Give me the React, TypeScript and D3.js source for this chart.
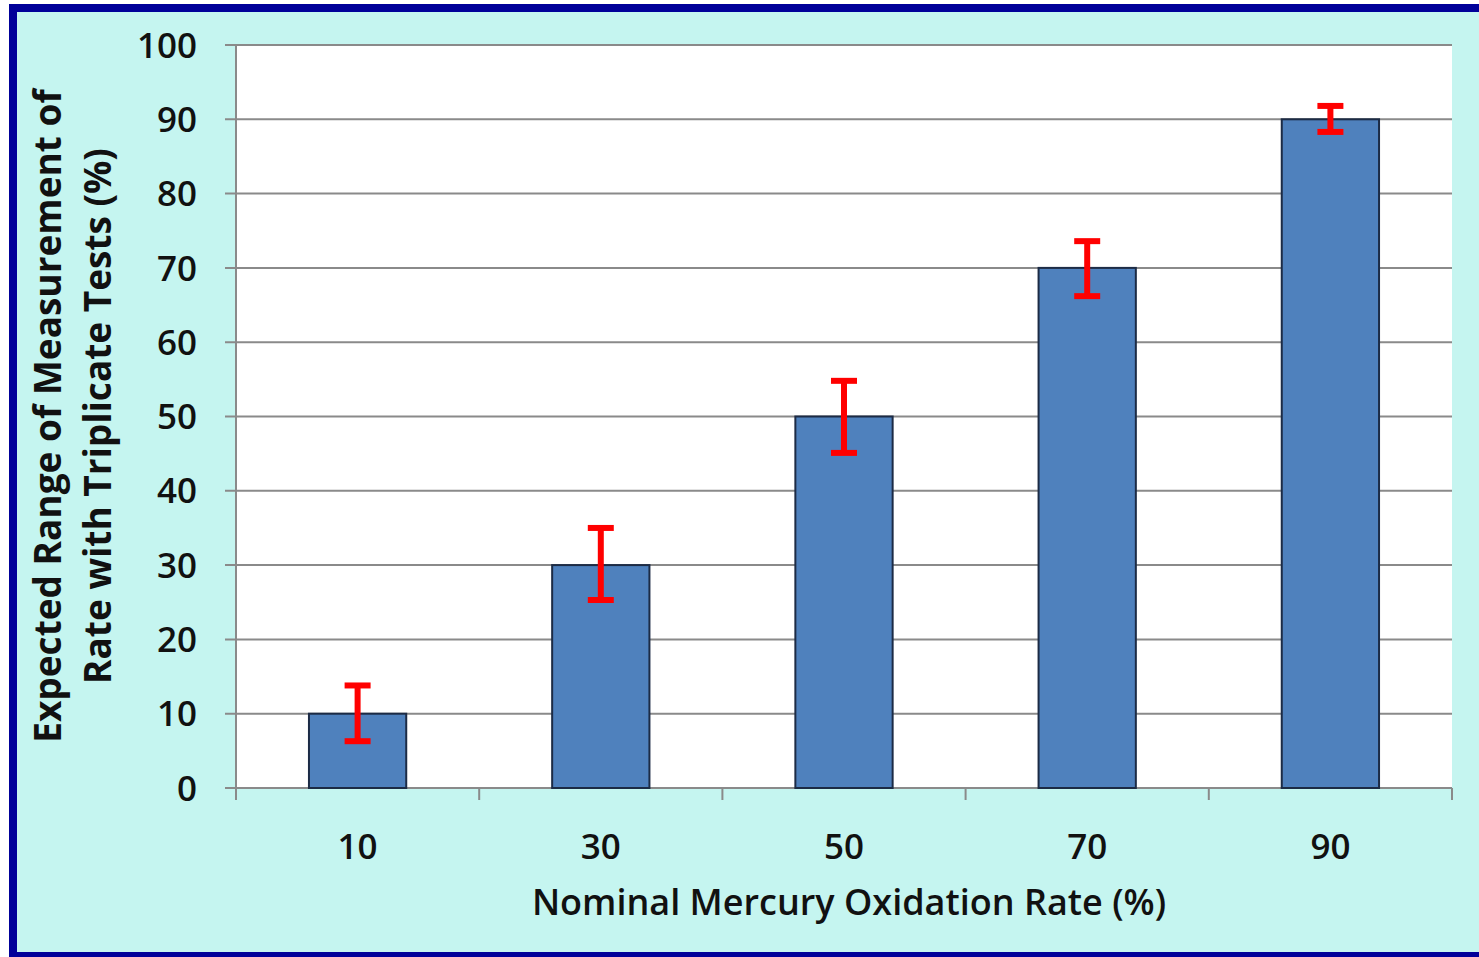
import React from "react";
import * as d3 from "d3";

const categories = ["10", "30", "50", "70", "90"];
const values = [10, 30, 50, 70, 90];
const errorLow = [6.3, 25.3, 45.1, 66.2, 88.3];
const errorHigh = [13.8, 35.0, 54.8, 73.6, 91.8];
const yTicks = [0, 10, 20, 30, 40, 50, 60, 70, 80, 90, 100];

const W = 1479;
const H = 957;
const plot = { left: 236, right: 1452, top: 45, bottom: 788 };

export default function App() {
  const x = d3
    .scaleBand<string>()
    .domain(categories)
    .range([plot.left, plot.right])
    .paddingInner(0.6)
    .paddingOuter(0.3);
  const xb = d3.scaleBand<string>().domain(categories).range([plot.left, plot.right]).padding(0);
  const y = d3.scaleLinear().domain([0, 100]).range([plot.bottom, plot.top]);
  const font = "'Open Sans', 'DejaVu Sans', sans-serif";
  const capW = 26;
  const boundaries = categories.map((c) => xb(c) as number).concat([plot.right]);

  return (
    <svg width={W} height={H} style={{ position: "absolute", left: 0, top: 0 }}>
      <rect x={0} y={0} width={W} height={H} fill="#ffffff" />
      <rect x={13} y={8} width={W + 20} height={948} fill="#c5f5f0" stroke="#000099" strokeWidth={8} />
      <rect x={plot.left} y={plot.top} width={plot.right - plot.left} height={plot.bottom - plot.top} fill="#ffffff" />
      {yTicks.map((t) => (
        <g key={t}>
          <line x1={plot.left - 11} x2={plot.right} y1={y(t)} y2={y(t)} stroke="#8a8a8a" strokeWidth={2} />
          <text x={197} y={y(t)} dy="0.36em" textAnchor="end" fontFamily={font} fontWeight={600} fontSize={35} fill="#111">
            {t}
          </text>
        </g>
      ))}
      <line x1={plot.left} x2={plot.left} y1={plot.top} y2={plot.bottom + 12} stroke="#8a8a8a" strokeWidth={2} />
      {boundaries.map((b, i) => (
        <line key={i} x1={b} x2={b} y1={plot.bottom} y2={plot.bottom + 12} stroke="#8a8a8a" strokeWidth={2} />
      ))}
      {categories.map((c, i) => (
        <rect
          key={c}
          x={x(c)}
          y={y(values[i])}
          width={x.bandwidth()}
          height={y(0) - y(values[i])}
          fill="#4f81bd"
          stroke="#1c2b45"
          strokeWidth={2}
        />
      ))}
      {categories.map((c, i) => {
        const cx = (x(c) as number) + x.bandwidth() / 2;
        return (
          <g key={"e" + c} stroke="#ff0000" strokeWidth={6}>
            <line x1={cx} x2={cx} y1={y(errorLow[i])} y2={y(errorHigh[i])} />
            <line x1={cx - capW / 2} x2={cx + capW / 2} y1={y(errorLow[i])} y2={y(errorLow[i])} />
            <line x1={cx - capW / 2} x2={cx + capW / 2} y1={y(errorHigh[i])} y2={y(errorHigh[i])} />
          </g>
        );
      })}
      {categories.map((c) => (
        <text
          key={"l" + c}
          x={(x(c) as number) + x.bandwidth() / 2}
          y={846}
          dy="0.36em"
          textAnchor="middle"
          fontFamily={font}
          fontWeight={600}
          fontSize={35}
          fill="#111"
        >
          {c}
        </text>
      ))}
      <text x={849} y={902} dy="0.36em" textAnchor="middle" fontFamily={font} fontWeight={600} fontSize={36} fill="#111">
        Nominal Mercury Oxidation Rate (%)
      </text>
      <g transform="translate(48,416) rotate(-90)">
        <text x={0} y={0} dy="0.36em" textAnchor="middle" fontFamily={font} fontWeight={700} fontSize={37} fill="#111">
          Expected Range of Measurement of
        </text>
      </g>
      <g transform="translate(98,416) rotate(-90)">
        <text x={0} y={0} dy="0.36em" textAnchor="middle" fontFamily={font} fontWeight={700} fontSize={37} fill="#111">
          Rate with Triplicate Tests (%)
        </text>
      </g>
    </svg>
  );
}
